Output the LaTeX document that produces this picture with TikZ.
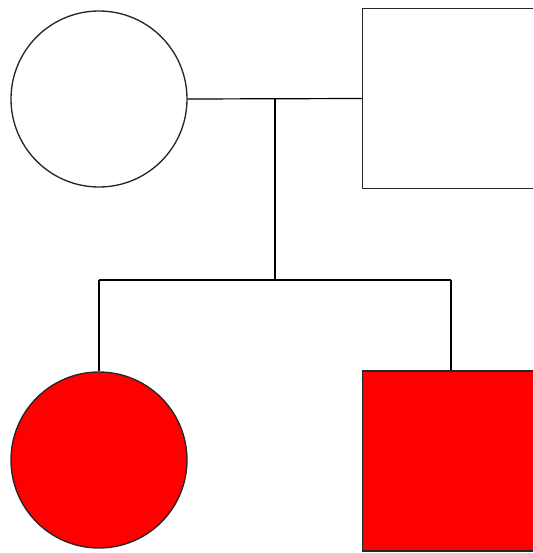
\documentclass[tikz,border=0pt]{standalone}
\begin{document}
\begin{tikzpicture}[x=0.75pt,y=-0.75pt,
  member/.style={draw=black!85,line width=1pt},
  link/.style={draw=black,line width=0.9pt},
  affected/.style={fill=red}]
\useasboundingbox (0,0) rectangle (533,553);
\clip (0,0) rectangle (533,553);
% parents
\node[member,circle,minimum size=176*0.75pt,inner sep=0pt] (mother) at (99,99) {};
\node[member,rectangle,minimum size=180*0.75pt,inner sep=0pt] (father) at (452.5,98.5) {};
% children
\node[member,affected,circle,minimum size=176*0.75pt,inner sep=0pt] (daughter) at (99,460) {};
\node[member,affected,rectangle,minimum size=180*0.75pt,inner sep=0pt] (son) at (452.5,461) {};
% connectors
\coordinate (mid) at (275,99);
\coordinate (sib) at (275,280);
\coordinate (sl) at (99,280);
\coordinate (sr) at (451,280);
\draw[link] (mother.east) -- (father.west);
\draw[link] (mid) -- (sib);
\draw[link] (sl) -- (sr);
\draw[link] (sl) -- (daughter.north);
\draw[link] (sr) -- (sr |- son.north);
\end{tikzpicture}
\end{document}
